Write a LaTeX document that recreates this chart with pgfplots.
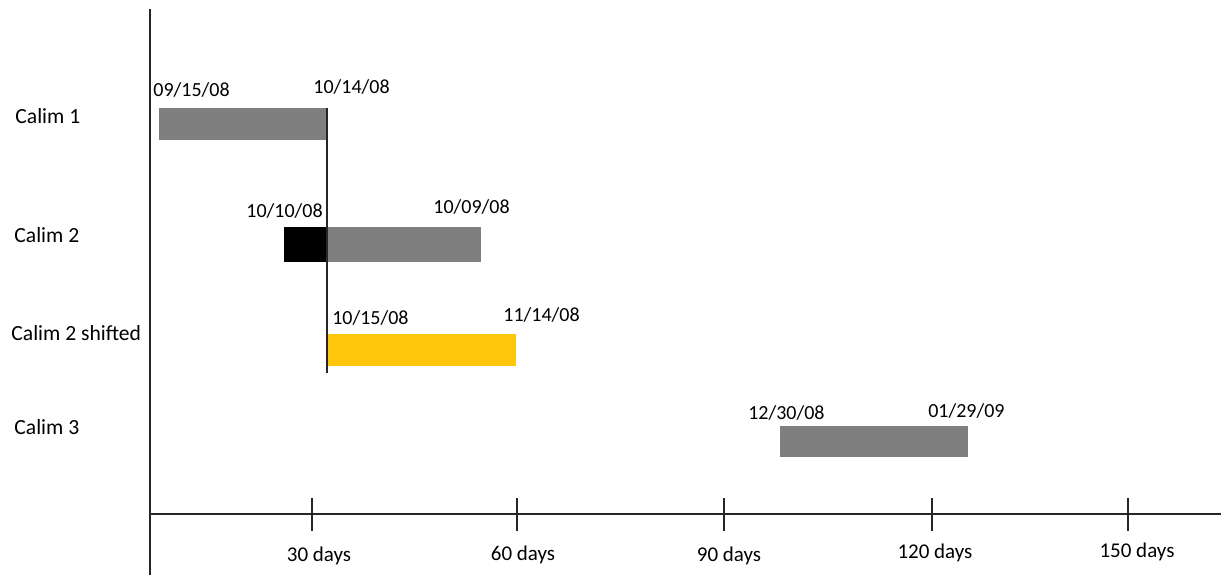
\documentclass[border=0pt]{standalone}
\usepackage{pgfplots}
\pgfplotsset{compat=1.18}
\usepackage{fontspec}
\setmainfont{Carlito}
\definecolor{bargray}{HTML}{7F7F7F}
\definecolor{baryellow}{HTML}{FFC60B}
\definecolor{axisgray}{HTML}{262626}
\tikzset{
  date/.style={font=\fontsize{10}{12}\selectfont, anchor=base west, inner sep=0pt},
  cat/.style={font=\fontsize{10.8}{12}\selectfont, anchor=base west, inner sep=0pt},
  tl/.style={font=\fontsize{10.5}{12}\selectfont, anchor=base, inner sep=0pt},
}
\begin{document}
\begin{tikzpicture}
\begin{axis}[
  scale only axis,
  width=535.5pt, height=283pt,
  xmin=6.082, xmax=163.05,
  ymin=-61, ymax=505,
  axis x line=middle, axis y line=left,
  x axis line style={-, line width=0.75pt, color=axisgray},
  y axis line style={-, line width=0.75pt, color=axisgray},
  xtick={29.83,59.87,90.21,120.69,149.42},
  xticklabels={},
  ytick=\empty,
  major tick length=16.5pt,
  tick align=center,
  x tick style={line width=0.75pt, color=axisgray},
  clip=false,
]
% Calim 1
\addplot[fill=bargray, draw=none] coordinates {(7.40,374) (32.02,374) (32.02,406) (7.40,406)} -- cycle;
% Calim 2
\addplot[fill=black, draw=none] coordinates {(25.72,252) (32.02,252) (32.02,287) (25.72,287)} -- cycle;
\addplot[fill=bargray, draw=none] coordinates {(32.02,252) (54.60,252) (54.60,287) (32.02,287)} -- cycle;
% Calim 2 shifted
\addplot[fill=baryellow, draw=none] coordinates {(31.88,148) (59.72,148) (59.72,180) (31.88,180)} -- cycle;
% Calim 3
\addplot[fill=bargray, draw=none] coordinates {(98.42,57) (125.97,57) (125.97,88) (98.42,88)} -- cycle;
% reference line
\addplot[axisgray, line width=0.75pt] coordinates {(32.02,406) (32.02,141)};
% date labels
\node[date] at (axis cs:6.52,418) {09/15/08};
\node[date] at (axis cs:29.97,421) {10/14/08};
\node[date] at (axis cs:20.15,297) {10/10/08};
\node[date] at (axis cs:47.56,301) {10/09/08};
\node[date] at (axis cs:32.75,190) {10/15/08};
\node[date] at (axis cs:57.82,193) {11/14/08};
\node[date] at (axis cs:93.72,95) {12/30/08};
\node[date] at (axis cs:120.1,97) {01/29/09};
% category labels
\node[cat] at (axis cs:-13.70,391) {Calim 1};
\node[cat] at (axis cs:-13.85,272) {Calim 2};
\node[cat] at (axis cs:-14.29,174) {Calim 2 shifted};
\node[cat] at (axis cs:-13.85,80) {Calim 3};
% tick labels
\node[tl] at (axis cs:30.85,-47) {30 days};
\node[tl] at (axis cs:60.75,-46) {60 days};
\node[tl] at (axis cs:90.94,-47) {90 days};
\node[tl] at (axis cs:121.13,-44) {120 days};
\node[tl] at (axis cs:150.74,-43) {150 days};
\end{axis}
\pgfresetboundingbox
\path ([xshift=-75pt]current axis.south west) rectangle ([xshift=3pt,yshift=4.5pt]current axis.north east);
\end{tikzpicture}
\end{document}
